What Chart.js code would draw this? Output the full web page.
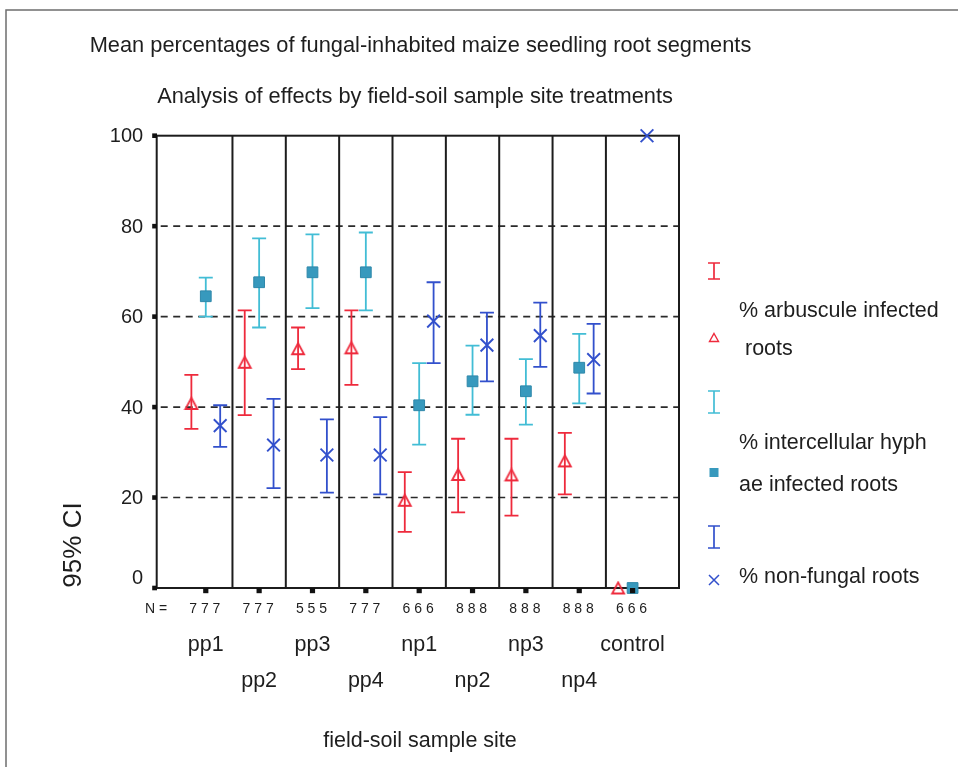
<!DOCTYPE html>
<html>
<head>
<meta charset="utf-8">
<script src="https://cdn.jsdelivr.net/npm/chart.js@4.4.1/dist/chart.umd.min.js"></script>
<style>
  html, body { margin: 0; padding: 0; background: #fff; }
  canvas { display: block; }
</style>
</head>
<body>
<canvas id="chart" width="958" height="767"></canvas>
<script>
// Field-soil sample sites and group sizes
const sites = ['pp1', 'pp2', 'pp3', 'pp4', 'np1', 'np2', 'np3', 'np4', 'control'];
const sampleN = [7, 7, 5, 7, 6, 8, 8, 8, 6];
const yTicks = [0, 20, 40, 60, 80, 100];

// % arbuscule infected roots: mean and 95% CI
const arbMean = [40.8, 49.9, 52.9, 53.1, 19.4, 25.1, 25.0, 28.1, 0];
const arbLow  = [35.2, 38.2, 48.4, 44.9, 12.4, 16.7, 16.0, 20.7, null];
const arbHigh = [47.1, 61.4, 57.6, 61.4, 25.6, 33.0, 33.0, 34.3, null];

// % intercellular hyphae infected roots: mean and 95% CI
const hyphMean = [64.5, 67.6, 69.8, 69.8, 40.4, 45.7, 43.5, 48.7, 0];
const hyphLow  = [60.0, 57.6, 61.9, 61.4, 31.7, 38.3, 36.1, 40.8, null];
const hyphHigh = [68.6, 77.3, 78.2, 78.6, 49.7, 53.6, 50.6, 56.2, null];

// % non-fungal roots: mean and 95% CI
const nonMean = [35.9, 31.6, 29.4, 29.4, 59.0, 53.7, 55.8, 50.5, 100];
const nonLow  = [31.2, 22.1, 21.1, 20.7, 49.7, 45.7, 48.9, 43.0, null];
const nonHigh = [40.4, 41.8, 37.3, 37.8, 67.6, 60.9, 63.1, 58.4, null];

const titleText = 'Mean percentages of fungal-inhabited maize seedling root segments';
const subtitleText = 'Analysis of effects by field-soil sample site treatments';
const xTitle = 'field-soil sample site';
const yTitle = '95% CI';
const legendLines = [
  ['% arbuscule infected', ' roots'],
  ['% intercellular hyph', 'ae infected roots'],
  ['% non-fungal roots']
];

// ---- styling ----
const FONT = "'Liberation Sans', Arial, Helvetica, sans-serif";
const TEXT = '#1e1e1e';
const RED = '#ee2a3c';
const CYAN = '#42bdd5';
const TEAL = '#3799bd';
const BLUE = '#3250cc';
const SLOT = [-0.27, 0, 0.27];   // horizontal position of each series inside a site

// open triangle marker, centred on its bounding box
function triangleMarker(color, w, h, lw) {
  const c = document.createElement('canvas');
  c.width = w + 4; c.height = h + 4;
  const g = c.getContext('2d');
  const cx = c.width / 2, cy = c.height / 2;
  g.strokeStyle = color; g.lineWidth = lw; g.lineJoin = 'miter';
  g.beginPath();
  g.moveTo(cx, cy - h / 2);
  g.lineTo(cx + w / 2, cy + h / 2);
  g.lineTo(cx - w / 2, cy + h / 2);
  g.closePath();
  g.stroke();
  return c;
}

function points(means, k) {
  return means.map((v, i) => ({ x: i + SLOT[k], y: v }));
}

const datasets = [
  {
    label: legendLines[0].join(''),
    data: points(arbMean, 0), ciLow: arbLow, ciHigh: arbHigh, barColor: RED,
    pointStyle: triangleMarker(RED, 12, 11, 1.8),
    pointRadius: 7, borderColor: RED, backgroundColor: RED
  },
  {
    label: legendLines[1].join(''),
    data: points(hyphMean, 1), ciLow: hyphLow, ciHigh: hyphHigh, barColor: CYAN,
    pointStyle: 'rect', pointRadius: 7.6, borderWidth: 1,
    borderColor: '#2f88aa', backgroundColor: TEAL
  },
  {
    label: legendLines[2].join(''),
    data: points(nonMean, 2), ciLow: nonLow, ciHigh: nonHigh, barColor: BLUE,
    pointStyle: 'crossRot', pointRadius: 9, borderWidth: 1.9,
    borderColor: BLUE, backgroundColor: BLUE
  }
].map(d => Object.assign({ showLine: false, clip: false, pointHoverRadius: d.pointRadius }, d));

function errorBar(ctx, px, pTop, pBot, half) {
  ctx.beginPath();
  ctx.moveTo(px, pTop); ctx.lineTo(px, pBot);
  ctx.moveTo(px - half, pTop); ctx.lineTo(px + half, pTop);
  ctx.moveTo(px - half, pBot); ctx.lineTo(px + half, pBot);
  ctx.stroke();
}

const decor = {
  id: 'decor',
  beforeDatasetsDraw(chart) {
    const { ctx, chartArea: a, scales: { x, y } } = chart;
    ctx.save();
    // dashed reference lines
    ctx.strokeStyle = '#2a2a2a';
    ctx.lineWidth = 1.6;
    ctx.setLineDash([7, 5.5]);
    yTicks.forEach(t => {
      if (t <= y.min || t >= y.max) return;
      const py = y.getPixelForValue(t);
      ctx.beginPath(); ctx.moveTo(a.left + 4, py); ctx.lineTo(a.right, py); ctx.stroke();
    });
    ctx.setLineDash([]);
    // site separators
    ctx.strokeStyle = '#1c1c1c';
    ctx.lineWidth = 2;
    for (let i = 0; i < sites.length - 1; i++) {
      const px = x.getPixelForValue(i + 0.5);
      ctx.beginPath(); ctx.moveTo(px, a.top); ctx.lineTo(px, a.bottom); ctx.stroke();
    }
    // plot frame
    ctx.strokeRect(a.left, a.top, a.right - a.left, a.bottom - a.top);
    // confidence intervals
    ctx.lineWidth = 1.8;
    chart.data.datasets.forEach(ds => {
      ctx.strokeStyle = ds.barColor;
      ds.data.forEach((p, i) => {
        if (ds.ciLow[i] == null) return;
        errorBar(ctx, x.getPixelForValue(p.x),
          y.getPixelForValue(ds.ciHigh[i]), y.getPixelForValue(ds.ciLow[i]), 7);
      });
    });
    ctx.restore();
  },
  afterDraw(chart) {
    const { ctx, chartArea: a, scales: { x, y } } = chart;
    ctx.save();

    // outer frame
    ctx.strokeStyle = '#6e6e6e';
    ctx.lineWidth = 1.5;
    ctx.strokeRect(6, 10, 1000, 1000);

    // tick squares
    ctx.fillStyle = '#111';
    yTicks.forEach(t => {
      const py = y.getPixelForValue(t);
      ctx.fillRect(a.left - 4.5, py - 2.3, 4.8, 4.6);
    });
    sites.forEach((s, i) => {
      const px = x.getPixelForValue(i);
      ctx.fillRect(px - 2.6, a.bottom, 5.2, 5.2);
    });

    ctx.fillStyle = TEXT;

    // titles
    ctx.textAlign = 'center';
    ctx.textBaseline = 'alphabetic';
    ctx.font = `21.8px ${FONT}`;
    ctx.fillText(titleText, 420.5, 52);
    ctx.fillText(subtitleText, 415, 103);

    // y tick labels
    ctx.textAlign = 'right';
    ctx.textBaseline = 'middle';
    ctx.font = `20px ${FONT}`;
    yTicks.forEach(t => {
      const py = y.getPixelForValue(t) + (t === 0 ? -11 : 0);
      ctx.fillText(String(t), a.left - 13.5, py + 1);
    });

    // y title
    ctx.save();
    ctx.translate(73, 545);
    ctx.rotate(-Math.PI / 2);
    ctx.textAlign = 'center';
    ctx.font = `26px ${FONT}`;
    ctx.fillText(yTitle, 0, 1);
    ctx.restore();

    // group sizes
    ctx.textBaseline = 'alphabetic';
    ctx.font = `14px ${FONT}`;
    ctx.textAlign = 'left';
    ctx.fillText('N =', 145, 613);
    ctx.textAlign = 'center';
    sites.forEach((s, i) => {
      const n = String(sampleN[i]);
      ctx.fillText([n, n, n].join(' '), x.getPixelForValue(i) - 1, 613);
    });

    // site labels, staggered on two rows
    ctx.font = `21.5px ${FONT}`;
    sites.forEach((s, i) => {
      ctx.fillText(s, x.getPixelForValue(i), i % 2 === 0 ? 651 : 687);
    });

    // x title
    ctx.fillText(xTitle, 420, 747);

    // legend
    const lx = 714;
    ctx.lineWidth = 1.7;
    const icons = [
      { color: RED, bar: [263, 279] },
      { color: CYAN, bar: [391, 413] },
      { color: BLUE, bar: [526, 548] }
    ];
    icons.forEach(ic => {
      ctx.strokeStyle = ic.color;
      errorBar(ctx, lx, ic.bar[0], ic.bar[1], 6);
    });
    // triangle
    ctx.strokeStyle = RED; ctx.lineWidth = 1.4;
    ctx.beginPath();
    ctx.moveTo(lx, 333.5); ctx.lineTo(lx + 4.5, 341.5); ctx.lineTo(lx - 4.5, 341.5); ctx.closePath();
    ctx.stroke();
    // square
    ctx.fillStyle = TEAL;
    ctx.fillRect(lx - 4.5, 468, 9, 9);
    // cross
    ctx.strokeStyle = BLUE; ctx.lineWidth = 1.5;
    ctx.beginPath();
    ctx.moveTo(lx - 5, 575); ctx.lineTo(lx + 5, 585);
    ctx.moveTo(lx + 5, 575); ctx.lineTo(lx - 5, 585);
    ctx.stroke();

    ctx.fillStyle = TEXT;
    ctx.textAlign = 'left';
    ctx.font = `21.5px ${FONT}`;
    ctx.fillText(legendLines[0][0], 739, 317);
    ctx.fillText(legendLines[0][1], 739, 355);
    ctx.fillText(legendLines[1][0], 739, 449);
    ctx.fillText(legendLines[1][1], 739, 491);
    ctx.fillText(legendLines[2][0], 739, 583);

    ctx.restore();
  }
};

new Chart(document.getElementById('chart'), {
  type: 'scatter',
  data: { datasets },
  options: {
    responsive: false,
    animation: false,
    events: [],
    layout: { padding: { left: 156.7, top: 135.7, right: 279, bottom: 179 } },
    plugins: { legend: { display: false }, tooltip: { enabled: false }, title: { display: false } },
    scales: {
      x: { type: 'linear', display: false, min: -0.92, max: 8.87 },
      y: { type: 'linear', display: false, min: 0, max: 100 }
    }
  },
  plugins: [decor]
});
</script>
</body>
</html>
